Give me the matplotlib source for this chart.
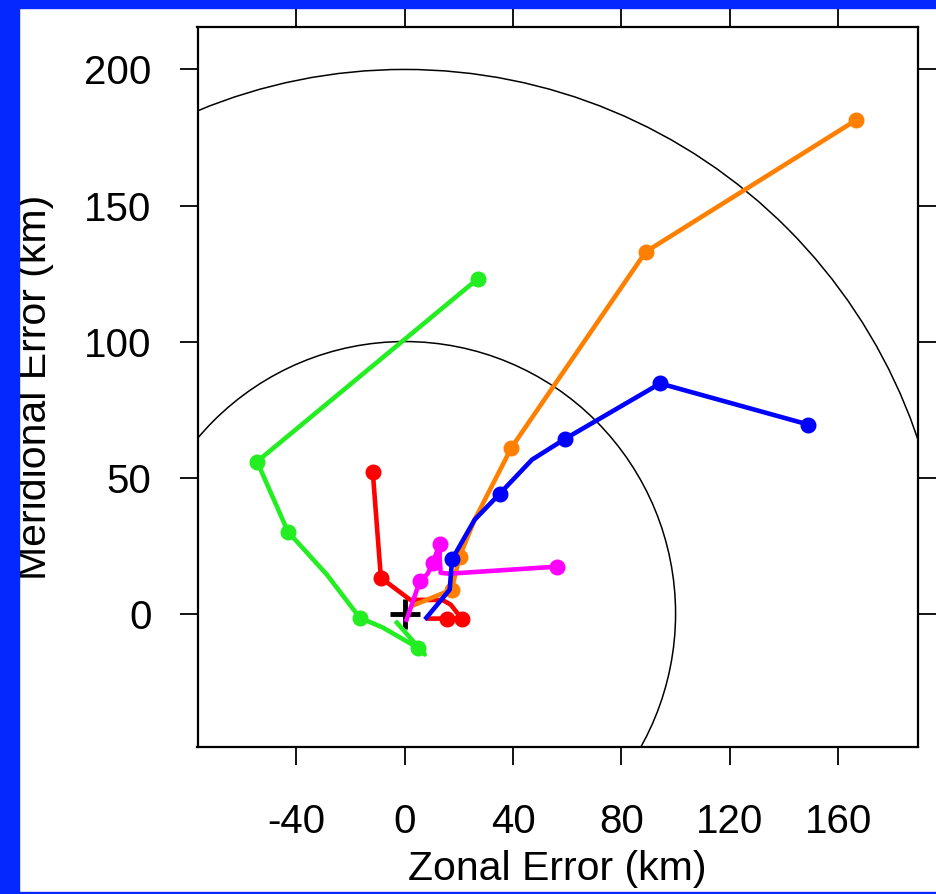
import matplotlib
matplotlib.use("Agg")
import matplotlib.pyplot as plt
from matplotlib.patches import Circle, Rectangle

plt.rcParams['font.family'] = ['Liberation Sans', 'DejaVu Sans']
plt.rcParams['axes.unicode_minus'] = False

# track errors (km): zonal x, meridional y, and which points get a dot
blue_x = [8, 16.6, 17.5, 25.8, 35, 47, 59.3, 94.3, 149]
blue_y = [-1.5, 8.8, 20.0, 34.5, 44, 56.6, 64.3, 84.6, 69.5]
blue_mk = [2, 4, 6, 7, 8]

orange_x = [3, 17.3, 20.3, 25.8, 39.4, 89, 166.5]
orange_y = [3, 8.8, 21, 34.5, 61, 133, 181.3]
orange_mk = [1, 2, 4, 5, 6]

green_x = [-2.9, 7.4, 4.8, -8.1, -16.6, -28.7, -43.1, -54.5, 26.9]
green_y = [-3.3, -15, -12.5, -5.1, -1.5, 14.3, 30.1, 55.9, 123]
green_mk = [2, 4, 6, 7, 8]

red_x = [8.5, 15.5, 21, 17, 14, 2, -8.8, -11.8]
red_y = [-1.8, -1.8, -1.8, 3.3, 5, 5.1, 13.2, 52.2]
red_mk = [1, 2, 6, 7]

magenta_x = [0.7, 5.6, 8.5, 10.4, 12.9, 12.9, 13.3, 16.6, 56.4]
magenta_y = [-2.2, 12.0, 14.7, 18.7, 25.7, 20, 15, 14.7, 17.3]
magenta_mk = [1, 3, 4, 8]

radii = [100, 200]
xticks = [-40, 0, 40, 80, 120, 160]
yticks = [0, 50, 100, 150, 200]

fig = plt.figure(figsize=(9.36, 8.94), dpi=100)
fig.patch.set_facecolor('white')
ax = fig.add_axes([197.5 / 936, 1 - 747 / 894, 720.5 / 936, 720 / 894])

for r in radii:
    ax.add_patch(Circle((0, 0), r, fill=False, color='black', lw=1.1, zorder=1))

ax.plot([0], [0], marker='+', color='black', ms=22, mew=3.5, zorder=2)

series = [
    (green_x, green_y, green_mk, '#22ee22'),
    (red_x, red_y, red_mk, '#ff0000'),
    (orange_x, orange_y, orange_mk, '#ff8000'),
    (magenta_x, magenta_y, magenta_mk, '#ff00ff'),
    (blue_x, blue_y, blue_mk, '#0000ff'),
]
for xs, ys, mk, c in series:
    ax.plot(xs, ys, color=c, lw=3.3, marker='o', ms=10.5, markevery=mk, zorder=3)

ax.set_xlim(-76.5, 189.5)
ax.set_ylim(-49, 215.6)
ax.set_xticks(xticks)
ax.set_yticks(yticks)
ax.tick_params(direction='out', length=13, width=1.3, top=True, right=True,
               labelsize=29, colors='black')
ax.tick_params(axis='x', pad=27)
ax.tick_params(axis='y', pad=20)
for s in ax.spines.values():
    s.set_linewidth(1.6)

ax.set_xlabel('Zonal Error (km)', fontsize=29.5, labelpad=7)
fig.text(35 / 936, 1 - 387 / 894, 'Meridional Error (km)', fontsize=29.5,
         rotation=90, ha='center', va='center')

# blue frame around the white panel
blue = '#0528ff'
fig.add_artist(Rectangle((0, 0), 19 / 936, 1, transform=fig.transFigure,
                         color=blue, zorder=10))
fig.add_artist(Rectangle((0, 1 - 8 / 894), 1, 8 / 894, transform=fig.transFigure,
                         color=blue, zorder=10))
fig.add_artist(Rectangle((0, 0), 1, 2.5 / 894, transform=fig.transFigure,
                         color=blue, zorder=10))

fig.savefig('out.png', dpi=100)
